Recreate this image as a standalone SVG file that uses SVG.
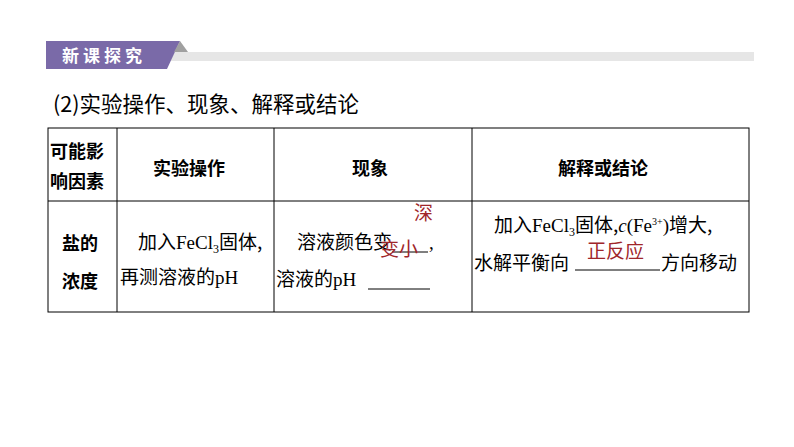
<svg xmlns="http://www.w3.org/2000/svg" width="794" height="447" viewBox="0 0 794 447">
<style>
.t{font-family:"Liberation Serif","Noto Sans CJK SC",serif;font-size:19px;fill:#000}
.c{font-family:"Noto Sans CJK SC",sans-serif;font-size:19px;fill:#000}
.h{font-family:"Noto Sans CJK SC",sans-serif;font-size:18px;font-weight:bold;fill:#000}
.r{font-family:"Noto Sans CJK SC",sans-serif;font-size:19px;fill:#a0262a}
line{stroke:#000;stroke-width:1}
</style>
<rect width="794" height="447" fill="#fff"/>
<g id="banner">
<rect x="170" y="52" width="584" height="9" fill="#e6e6e6"/>
<polygon points="46,41 180,41 167,69 46,69" fill="#7a6aa8"/>
<polygon points="180,41 188,52 174,52" fill="#a0a0a0"/>
<text x="62" y="62" font-family="Noto Sans CJK SC,sans-serif" font-size="17" font-weight="bold" fill="#fff" letter-spacing="4">新课探究</text>
</g>
<text class="c" x="53" y="112" style="font-size:21.5px">(2)实验操作、现象、解释或结论</text>
<g id="table">
<rect x="48" y="128" width="701" height="184" fill="none" stroke="#000"/>
<line x1="48" y1="201" x2="749" y2="201"/>
<line x1="117" y1="128" x2="117" y2="312"/>
<line x1="274" y1="128" x2="274" y2="312"/>
<line x1="472" y1="128" x2="472" y2="312"/>
<text class="h" x="50" y="158">可能影</text>
<text class="h" x="50" y="188">响因素</text>
<text class="h" x="153" y="175">实验操作</text>
<text class="h" x="352" y="175">现象</text>
<text class="h" x="558" y="175">解释或结论</text>
<text class="h" x="62" y="250">盐的</text>
<text class="h" x="62" y="288">浓度</text>
<text class="c" x="138" y="249">加入<tspan font-family="Liberation Serif">FeCl</tspan><tspan font-family="Liberation Serif" font-size="12" dy="4">3</tspan><tspan dy="-4">固体,</tspan></text>
<text class="c" x="120" y="284">再测溶液的<tspan font-family="Liberation Serif">pH</tspan></text>
<text class="c" x="297" y="249">溶液颜色变</text>
<line x1="392" y1="252" x2="428" y2="252"/>
<text class="t" x="429" y="249">,</text>
<text class="c" x="276" y="286">溶液的<tspan font-family="Liberation Serif">pH</tspan></text>
<line x1="368" y1="289" x2="430" y2="289"/>
<text class="r" x="414" y="220">深</text>
<text class="r" x="380" y="256">变小</text>
<text class="c" x="494" y="232">加入<tspan font-family="Liberation Serif">FeCl</tspan><tspan font-family="Liberation Serif" font-size="12" dy="4">3</tspan><tspan dy="-4">固体,</tspan><tspan font-family="Liberation Serif" font-style="italic">c</tspan><tspan font-family="Liberation Serif">(Fe</tspan><tspan font-family="Liberation Serif" font-size="10" dy="-7">3+</tspan><tspan font-family="Liberation Serif" dy="7">)</tspan>增大,</text>
<text class="c" x="474" y="270">水解平衡向</text>
<line x1="575" y1="270" x2="660" y2="270"/>
<text class="c" x="661" y="270">方向移动</text>
<text class="r" x="587" y="258">正反应</text>
</g>
</svg>
